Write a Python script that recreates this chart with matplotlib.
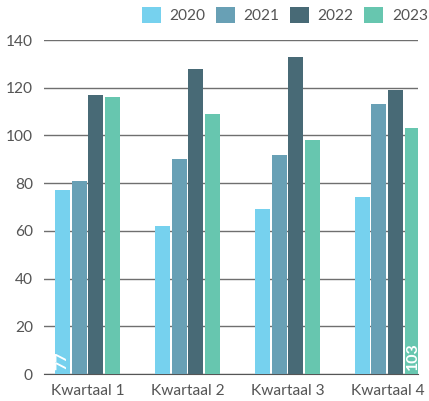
import matplotlib.pyplot as plt
import numpy as np

# chart data
quarters = ['Kwartaal 1', 'Kwartaal 2', 'Kwartaal 3', 'Kwartaal 4']
years = ['2020', '2021', '2022', '2023']
values_2020 = [77, 62, 69, 74]
values_2021 = [81, 90, 92, 113]
values_2022 = [117, 128, 133, 119]
values_2023 = [116, 109, 98, 103]
colors = ['#76D1EE', '#68A0B5', '#486A76', '#67C6AF']

plt.rcParams['font.family'] = ['Lato', 'DejaVu Sans']

fig = plt.figure(figsize=(4.29, 4.01), dpi=100)
ax = fig.add_axes([44 / 429, 27 / 401, 374 / 429, 334 / 401])

x = np.arange(len(quarters))
offsets = [-0.25, -0.085, 0.08, 0.25]
series = [values_2020, values_2021, values_2022, values_2023]
bars = []
for vals, off, col, yr in zip(series, offsets, colors, years):
    bars.append(ax.bar(x + off, vals, width=0.15, color=col, label=yr, zorder=3))

# value labels only on first and last bar, as in the source
for rect, val in [(bars[0][0], values_2020[0]), (bars[3][3], values_2023[3])]:
    ax.text(rect.get_x() + rect.get_width() / 2, 1.5, str(val), rotation=90,
            ha='center', va='bottom', color='white', fontsize=11.5,
            fontweight='bold', zorder=4)

ax.set_xlim(-0.435, 3.305)
ax.set_ylim(0, 140)
ax.set_yticks(range(0, 141, 20))
ax.set_xticks(x)
ax.set_xticklabels(quarters)
ax.yaxis.grid(True, color='#6f6f6f', linewidth=1.0, zorder=0)
ax.tick_params(axis='both', length=0, labelsize=11.2, labelcolor='#555555')
ax.tick_params(axis='y', pad=8)
ax.tick_params(axis='x', pad=7)
for side in ['top', 'right', 'left']:
    ax.spines[side].set_visible(False)
ax.spines['bottom'].set_color('#555555')

fig.legend(loc='upper right', bbox_to_anchor=(1.03, 1.018), ncol=4, frameon=False,
           handlelength=1.25, handleheight=1.25, handletextpad=0.55, columnspacing=0.65,
           fontsize=11.2, labelcolor='#555555')

plt.savefig('out.png', dpi=100)
